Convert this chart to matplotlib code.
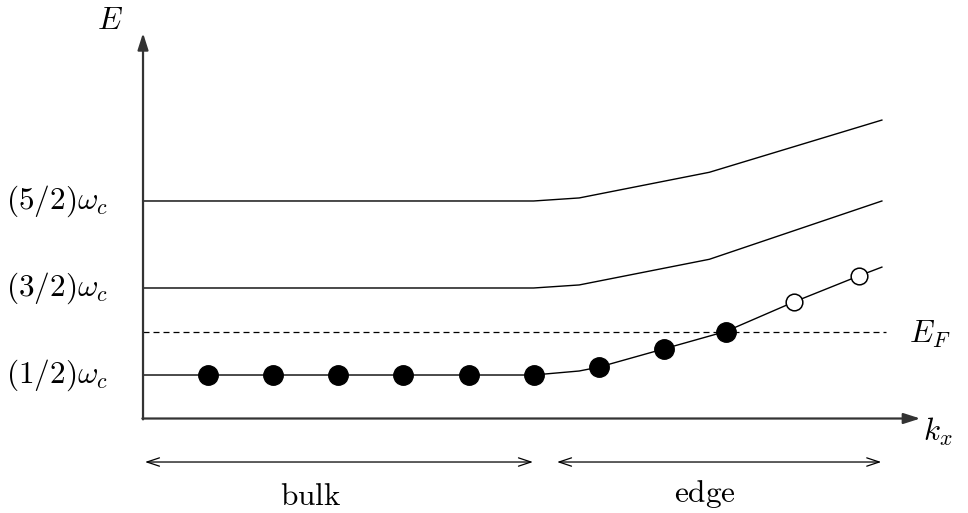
import matplotlib
matplotlib.use("Agg")
import matplotlib.pyplot as plt

plt.rcParams['mathtext.fontset'] = 'cm'
plt.rcParams['font.family'] = ['DejaVu Serif']

# Landau levels in units of hbar*omega_c
levels = [0.5, 1.5, 2.5]
level_labels = [r'$(1/2)\omega_c$', r'$(3/2)\omega_c$', r'$(5/2)\omega_c$']
E_fermi = 1.0

# dispersion curves: flat in the bulk, bending up near the edge
kx_upper = [0.0, 6.0, 6.7, 8.7, 11.35]
E_n1 = [1.5, 1.5, 1.535, 1.83, 2.5]
E_n2 = [2.5, 2.5, 2.535, 2.83, 3.43]
kx_lowest = [0.0, 6.0, 6.7, 7.0, 8.0, 8.95, 10.0, 11.0, 11.35]
E_n0 = [0.5, 0.5, 0.546, 0.59, 0.80, 1.0, 1.34, 1.64, 1.74]

# occupied and empty states on the lowest level
kx_filled = [1, 2, 3, 4, 5, 6, 7, 8, 8.95]
E_filled = [0.5, 0.5, 0.5, 0.5, 0.5, 0.5, 0.59, 0.80, 1.0]
kx_empty = [10.0, 11.0]
E_empty = [1.34, 1.64]

fig = plt.figure(figsize=(9.68, 5.13), dpi=100)
ax = fig.add_axes([0, 0, 1, 1])
ax.set_xlim(-2.197, 12.673)
ax.set_ylim(-1.086, 4.810)
ax.axis('off')

fs = 22.5
lw = 1.0

# axes with arrow heads
axis_arrow = dict(arrowstyle='-|>,head_length=0.5,head_width=0.16', color='#333333',
                  lw=1.6, mutation_scale=20, shrinkA=0, shrinkB=0)
ax.annotate('', xy=(0, 4.43), xytext=(0, -0.01), arrowprops=axis_arrow)
ax.annotate('', xy=(11.94, 0), xytext=(-0.01, 0), arrowprops=axis_arrow)
ax.text(-0.51, 4.58, r'$E$', fontsize=fs, ha='center', va='center')
ax.text(12.21, -0.155, r'$k_x$', fontsize=fs, ha='center', va='center')

for E, lab in zip(levels, level_labels):
    ax.text(-0.54, E, lab, fontsize=fs, ha='right', va='center')

ax.plot(kx_lowest, E_n0, color='black', lw=lw, zorder=2)
ax.plot(kx_upper, E_n1, color='black', lw=lw, zorder=2)
ax.plot(kx_upper, E_n2, color='black', lw=lw, zorder=2)

# Fermi level
ax.plot([0, 11.41], [E_fermi, E_fermi], color='black', lw=0.9,
        linestyle=(0, (4.8, 3.2)), zorder=1)
ax.text(12.09, 0.97, r'$E_F$', fontsize=fs, ha='center', va='center')

ax.plot(kx_filled, E_filled, 'o', color='black', markersize=14, zorder=3)
ax.plot(kx_empty, E_empty, 'o', markerfacecolor='white', markeredgecolor='black',
        markeredgewidth=1.1, markersize=12, zorder=3)

# bulk / edge regions
span_arrow = dict(arrowstyle='<->,head_length=0.45,head_width=0.15', color='black',
                  lw=0.9, mutation_scale=20, shrinkA=0, shrinkB=0)
ax.annotate('', xy=(0.03, -0.5), xytext=(5.99, -0.5), arrowprops=span_arrow)
ax.annotate('', xy=(6.36, -0.5), xytext=(11.34, -0.5), arrowprops=span_arrow)
ax.text(2.57, -0.90, r'$\mathrm{bulk}$', fontsize=fs, ha='center', va='center')
ax.text(8.63, -0.87, r'$\mathrm{edge}$', fontsize=fs, ha='center', va='center')

fig.savefig('out.png', dpi=100)
